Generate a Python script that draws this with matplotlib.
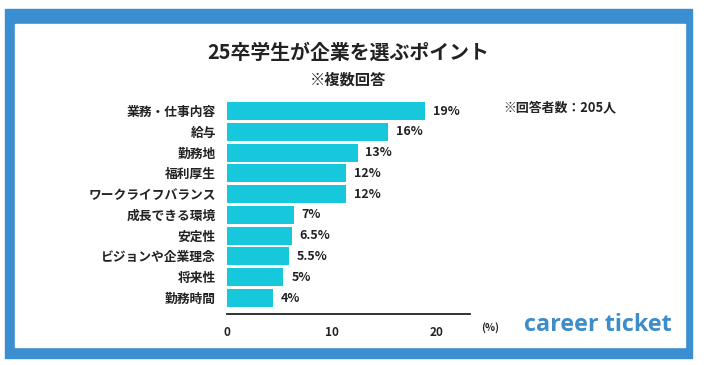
import matplotlib.pyplot as plt
from matplotlib.patches import Rectangle

plt.rcParams['font.family'] = ['Noto Sans CJK JP', 'DejaVu Sans']

# data (bar lengths, labels as printed)
labels = ['業務・仕事内容', '給与', '勤務地', '福利厚生', 'ワークライフバランス',
          '成長できる環境', '安定性', 'ビジョンや企業理念', '将来性', '勤務時間']
values = [18.95, 15.4, 12.5, 11.4, 11.4, 6.4, 6.2, 5.9, 5.4, 4.4]
value_text = ['19%', '16%', '13%', '12%', '12%', '7%', '6.5%', '5.5%', '5%', '4%']
ticks = [0, 10, 20]

W, H = 704, 365
fig = plt.figure(figsize=(7.04, 3.65), dpi=100)

# blue frame with white inside, on a background axes
bg = fig.add_axes([0, 0, 1, 1], zorder=-10)
bg.set_xlim(0, W)
bg.set_ylim(H, 0)
bg.axis('off')
bg.add_patch(Rectangle((5, 9), 687, 349, color='#3b8fd0'))
bg.add_patch(Rectangle((15, 24), 670, 323, color='white'))

ax = fig.add_axes([227 / W, 1 - 314 / H, 243 / W, 214 / H])
ax.patch.set_alpha(0)
y = [len(values) - 1 - i for i in range(len(values))]
ax.barh(y, values, height=0.87, color='#17c7dc')
for yy, v, t in zip(y, values, value_text):
    ax.text(v + 0.75, yy, t, va='center', ha='left', fontsize=9, fontweight='bold', color='#222222')

ax.set_xlim(0, 23.25)
ax.set_ylim(-0.77, 9.53)
ax.set_yticks(y)
ax.set_yticklabels(labels, fontsize=9.2, fontweight='bold', color='#222222')
ax.set_xticks(ticks)
ax.set_xticklabels([str(t) for t in ticks], fontsize=8.5, fontweight='bold', color='#222222')
ax.tick_params(length=0, pad=8)
ax.tick_params(axis='x', pad=9)
for s in ['top', 'right', 'left']:
    ax.spines[s].set_visible(False)
ax.spines['bottom'].set_linewidth(1.3)
ax.spines['bottom'].set_color('#222222')

fig.text(0.494, 1 - 52 / H, '25卒学生が企業を選ぶポイント', ha='center', va='center',
         fontsize=14.3, fontweight='bold', color='#222222')
fig.text(0.495, 1 - 80 / H, '※複数回答', ha='center', va='center',
         fontsize=11, fontweight='bold', color='#222222')
fig.text(503 / W, 1 - 107 / H, '※回答者数：205人', ha='left', va='center',
         fontsize=9.3, fontweight='bold', color='#222222')
fig.text(481 / W, 1 - 328 / H, '(%)', ha='left', va='center',
         fontsize=7.5, fontweight='bold', color='#222222')
fig.text(598 / W, 1 - 325 / H, 'career ticket', ha='center', va='center',
         fontsize=16.8, fontweight='bold', color='#3d8dcb', family='Open Sans')

fig.savefig('out.png', dpi=100)
